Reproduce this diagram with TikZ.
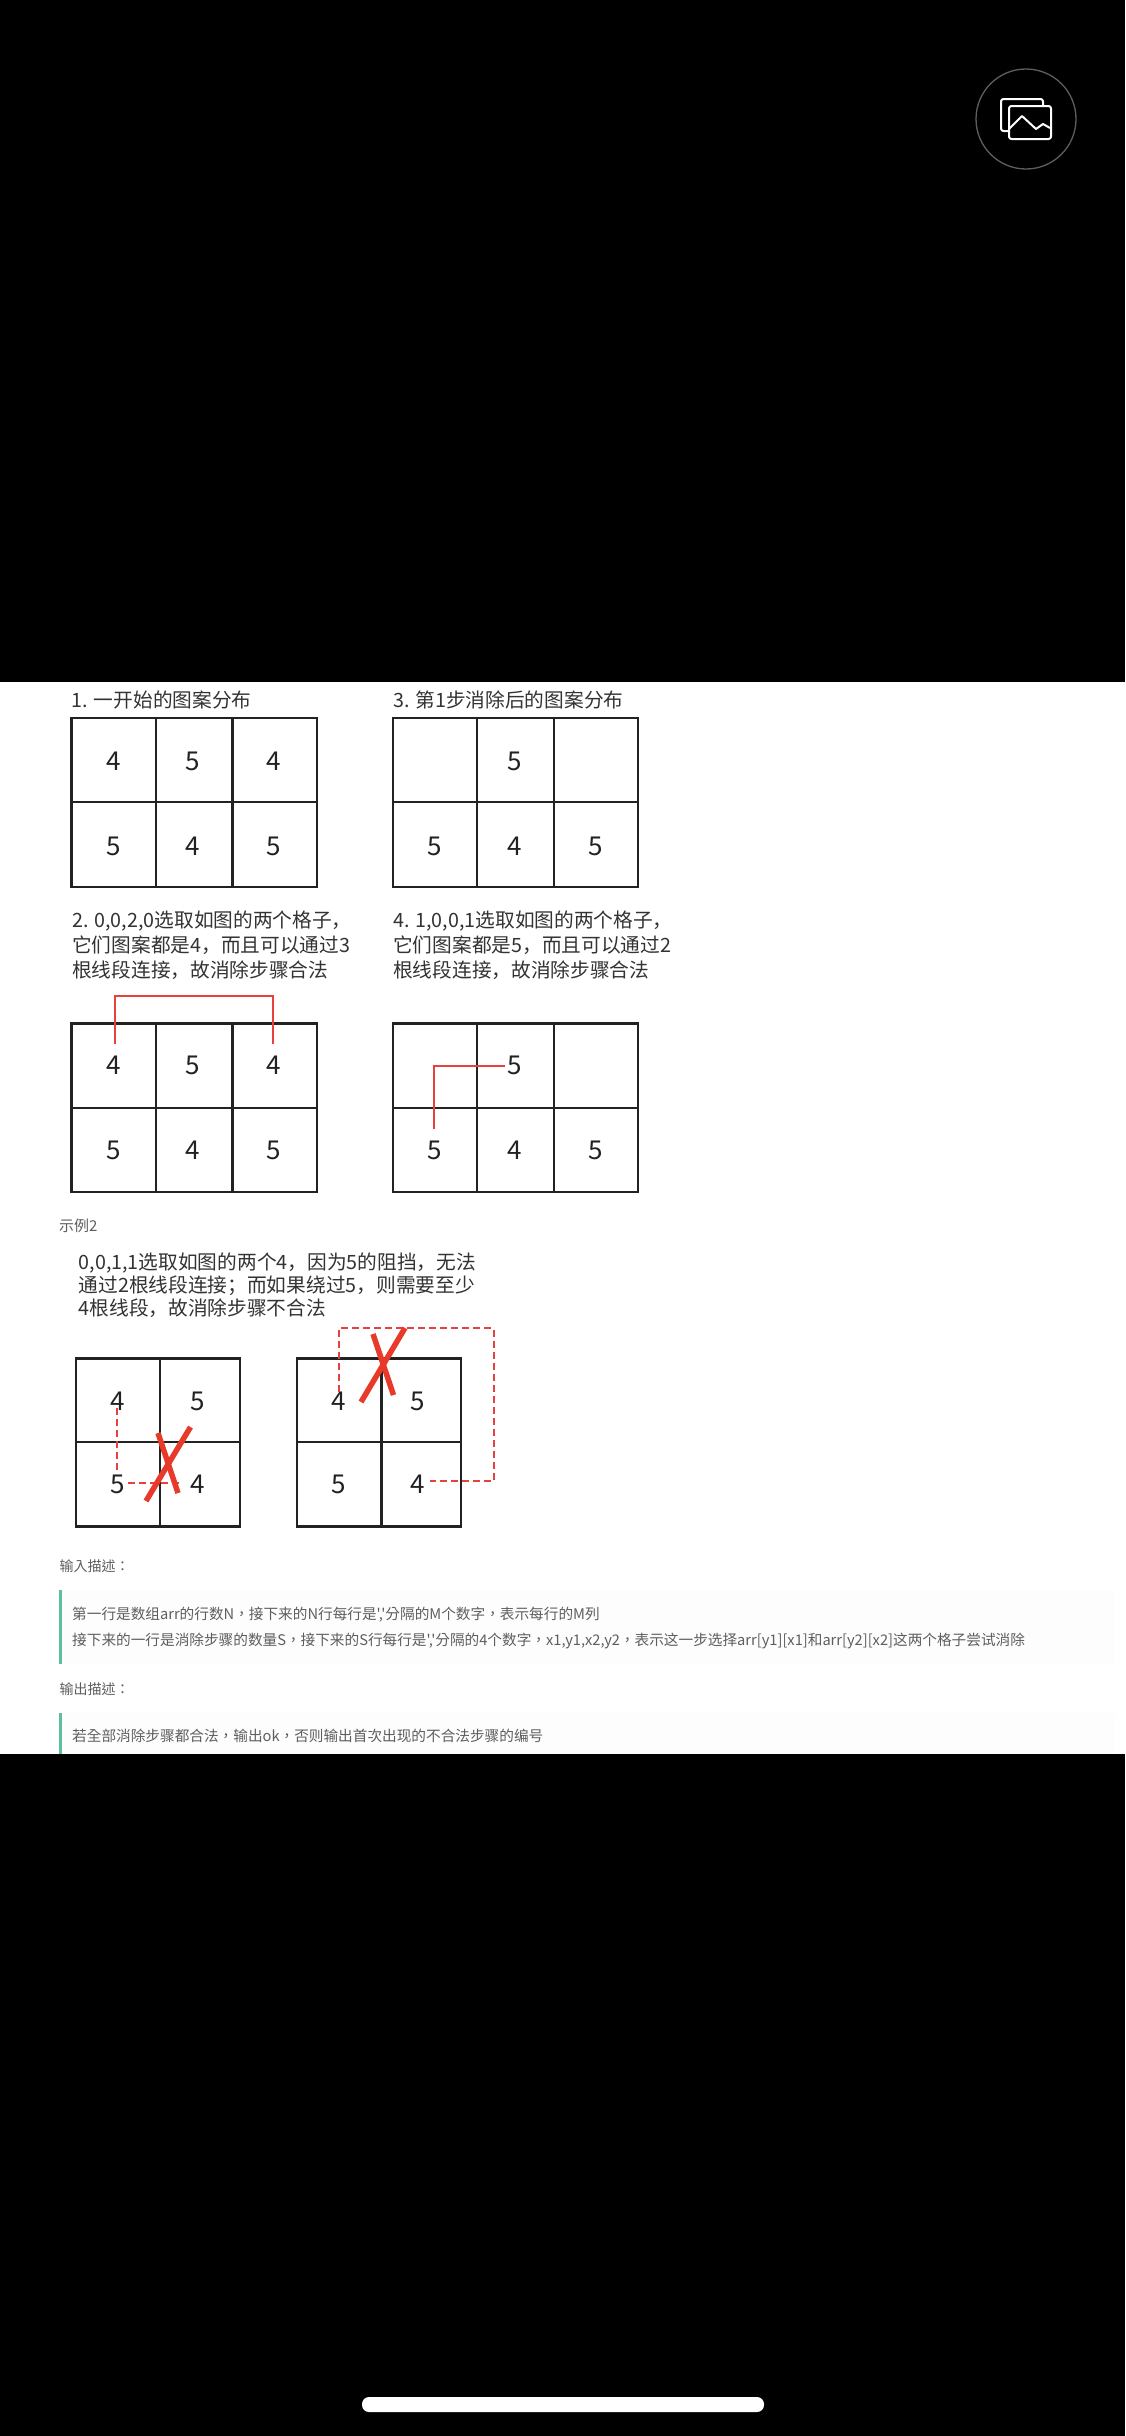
\documentclass[tikz,border=0pt]{standalone}
\usepackage{fontspec}
\setmainfont{Noto Sans CJK SC}
\newfontfamily\descfont{Noto Sans CJK TC}
\usetikzlibrary{calc}

\begin{document}
\begin{tikzpicture}[x=1pt,y=-1pt]
	\definecolor{inkdark}{HTML}{222222}
	\definecolor{inktext}{HTML}{333333}
	\definecolor{inkgray}{HTML}{5E5E5E}
	\definecolor{linkred}{HTML}{E8403F}
	\definecolor{crossred}{HTML}{E83A2A}
	\definecolor{barmint}{HTML}{5DBE9A}
	\definecolor{quotebg}{HTML}{FDFDFD}

	\tikzstyle{cellline}=[line width=2.2pt,draw=inkdark]
	\tikzstyle{cellnum}=[inner sep=0pt,text=inkdark,font=\fontsize{26}{26}\selectfont]
	\tikzstyle{caption}=[anchor=west,inner sep=0pt,align=left,text=inktext,font=\fontsize{19.7}{25}\selectfont]
	\tikzstyle{smallhead}=[anchor=west,inner sep=0pt,text=inkgray,font=\descfont\fontsize{14}{14}\selectfont]
	\tikzstyle{desc}=[anchor=west,inner sep=0pt,text=inkgray,font=\descfont\fontsize{14.65}{14.65}\selectfont]
	\tikzstyle{link}=[line width=2pt,draw=linkred]
	\tikzstyle{dashlink}=[line width=2pt,draw=linkred,dash pattern=on 7pt off 4pt]
	\tikzstyle{cross}=[line width=5.5pt,draw=crossred]
	\tikzstyle{iconline}=[line width=2pt,draw=white,rounded corners=2.5pt,line join=round]

	\useasboundingbox (0,0) rectangle (1125,2436);
	\fill [black] (0,0) rectangle (1125,2436);
	\fill [white] (0,682) rectangle (1125,1754);

	\draw [line width=1.3pt,draw=inkgray] (1026,119) circle (50);
	\draw [iconline] (1008,131) -- (1001,131) -- (1001,99) -- (1043,99) -- (1043,106);
	\draw [iconline] (1009,106) rectangle (1051,139);
	\draw [line width=2pt,draw=white,line join=round] (1009,129) -- (1022,116) -- (1036,129) -- (1043,124) -- (1050,128);

	\node (titleA) [caption] at (71.5,700) {1. 一开始的图案分布};
	\draw [cellline] (71.5,718) rectangle (317,887);
	\draw [cellline] (156,718) -- (156,887);
	\draw [cellline] (232.5,718) -- (232.5,887);
	\draw [cellline] (71.5,802) -- (317,802);
	\node (a11) [cellnum] at (114,761) {4};
	\node (a12) [cellnum] at (193,761) {5};
	\node (a13) [cellnum] at (274,761) {4};
	\node (a21) [cellnum] at (114,846) {5};
	\node (a22) [cellnum] at (193,846) {4};
	\node (a23) [cellnum] at (274,846) {5};

	\node (titleB) [caption] at (393,700) {3. 第1步消除后的图案分布};
	\draw [cellline] (393,718) rectangle (638,887);
	\draw [cellline] (477,718) -- (477,887);
	\draw [cellline] (554,718) -- (554,887);
	\draw [cellline] (393,802) -- (638,802);
	\node (b12) [cellnum] at (515,761) {5};
	\node (b21) [cellnum] at (435,846) {5};
	\node (b22) [cellnum] at (515,846) {4};
	\node (b23) [cellnum] at (596,846) {5};

	\node (noteC) [caption] at (72,945.5) {2. 0,0,2,0选取如图的两个格子，\\它们图案都是4，而且可以通过3\\根线段连接，故消除步骤合法};
	\draw [cellline] (71.5,1023.5) rectangle (317,1192);
	\draw [cellline] (156,1023.5) -- (156,1192);
	\draw [cellline] (232.5,1023.5) -- (232.5,1192);
	\draw [cellline] (71.5,1108) -- (317,1108);
	\node (c11) [cellnum] at (114,1065.5) {4};
	\node (c12) [cellnum] at (193,1065.5) {5};
	\node (c13) [cellnum] at (274,1065.5) {4};
	\node (c21) [cellnum] at (114,1150) {5};
	\node (c22) [cellnum] at (193,1150) {4};
	\node (c23) [cellnum] at (274,1150) {5};
	\draw [link] ($(c11)+(1,-22)$) -- ++(0,-48) -| ($(c13)+(-1,-22)$);

	\node (noteD) [caption] at (393,945.5) {4. 1,0,0,1选取如图的两个格子，\\它们图案都是5，而且可以通过2\\根线段连接，故消除步骤合法};
	\draw [cellline] (393,1023.5) rectangle (638,1192);
	\draw [cellline] (477,1023.5) -- (477,1192);
	\draw [cellline] (554,1023.5) -- (554,1192);
	\draw [cellline] (393,1108) -- (638,1108);
	\node (d12) [cellnum] at (515,1065.5) {5};
	\node (d21) [cellnum] at (435,1150) {5};
	\node (d22) [cellnum] at (515,1150) {4};
	\node (d23) [cellnum] at (596,1150) {5};
	\draw [link] ($(d21)+(-1,-21)$) |- ($(d12)+(-10,0)$);

	\node (example) [smallhead,font=\fontsize{15}{15}\selectfont] at (59,1226) {示例2};
	\node (noteE) [caption,font=\fontsize{19.7}{23}\selectfont] at (78.5,1285) {0,0,1,1选取如图的两个4，因为5的阻挡，无法\\通过2根线段连接；而如果绕过5，则需要至少\\4根线段，故消除步骤不合法};

	\draw [cellline] (76,1358.5) rectangle (240,1526.5);
	\draw [cellline] (160,1358.5) -- (160,1526.5);
	\draw [cellline] (76,1442) -- (240,1442);
	\node (e11) [cellnum] at (118,1401) {4};
	\node (e12) [cellnum] at (198,1401) {5};
	\node (e21) [cellnum] at (118,1484) {5};
	\node (e22) [cellnum] at (198,1484) {4};
	\draw [dashlink] ($(e11)+(-1,7)$) -- ($(e21)+(-1,-10)$);
	\draw [dashlink] ($(e21)+(10,-1)$) -- ($(e22)+(-18,-1)$);
	\draw [cross] (158,1433) -- (178,1493);
	\draw [cross] (190.5,1427) -- (146,1501);

	\draw [cellline] (297,1358.5) rectangle (461,1526.5);
	\draw [cellline] (381.5,1358.5) -- (381.5,1526.5);
	\draw [cellline] (297,1442) -- (461,1442);
	\node (f11) [cellnum] at (339,1401) {4};
	\node (f12) [cellnum] at (418,1401) {5};
	\node (f21) [cellnum] at (339,1484) {5};
	\node (f22) [cellnum] at (418,1484) {4};
	\draw [dashlink] ($(f11)+(0,-9)$) -- ++(0,-64) -| (493.5,1481) -- ($(f22)+(12,-3)$);
	\draw [cross] (373,1334) -- (393.5,1395);
	\draw [cross] (405,1328) -- (361,1402);

	\node (inputhead) [smallhead] at (59.5,1566) {输入描述：};
	\fill [quotebg] (61,1590) rectangle (1115,1664);
	\fill [barmint] (59,1590) rectangle (62,1664);
	\node (inputA) [desc] at (72,1615) {第一行是数组arr的行数N，接下来的N行每行是','分隔的M个数字，表示每行的M列};
	\node (inputB) [desc] at (72,1641) {接下来的一行是消除步骤的数量S，接下来的S行每行是','分隔的4个数字，x1,y1,x2,y2，表示这一步选择arr[y1][x1]和arr[y2][x2]这两个格子尝试消除};

	\node (outputhead) [smallhead] at (59.5,1689) {输出描述：};
	\fill [quotebg] (61,1713) rectangle (1115,1754);
	\fill [barmint] (59,1713) rectangle (62,1754);
	\node (outputA) [desc] at (72,1736) {若全部消除步骤都合法，输出ok，否则输出首次出现的不合法步骤的编号};

	\fill [white,rounded corners=7pt] (362,2397) rectangle (764,2412);
\end{tikzpicture}
\end{document}
